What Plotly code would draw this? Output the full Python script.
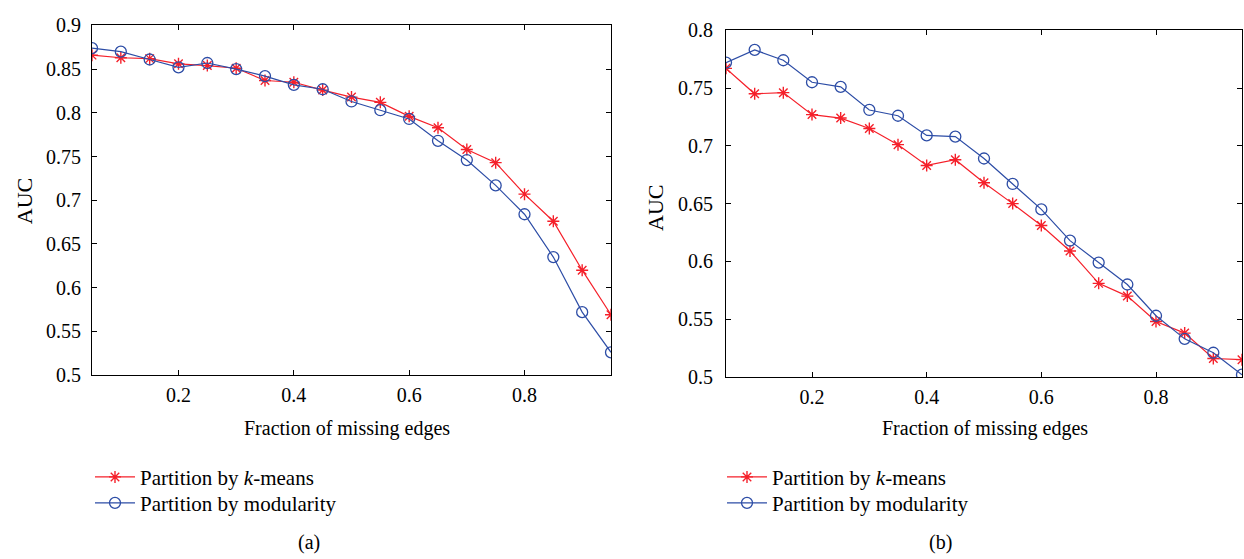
import plotly.graph_objects as go

# Fraction of missing edges (shared x values for both panels)
fraction = [0.05, 0.10, 0.15, 0.20, 0.25, 0.30, 0.35, 0.40, 0.45, 0.50,
            0.55, 0.60, 0.65, 0.70, 0.75, 0.80, 0.85, 0.90, 0.95]

# Panel (a)
auc_a_kmeans = [0.866, 0.863, 0.862, 0.856, 0.854, 0.851, 0.837, 0.835, 0.826, 0.818,
                0.812, 0.796, 0.783, 0.758, 0.743, 0.707, 0.676, 0.620, 0.569]
auc_a_modularity = [0.874, 0.870, 0.861, 0.852, 0.857, 0.850, 0.842, 0.832, 0.827, 0.813,
                    0.803, 0.793, 0.768, 0.746, 0.717, 0.684, 0.635, 0.572, 0.526]

# Panel (b)
auc_b_kmeans = [0.767, 0.745, 0.746, 0.727, 0.724, 0.715, 0.701, 0.683, 0.688, 0.668,
                0.650, 0.631, 0.609, 0.581, 0.570, 0.548, 0.538, 0.516, 0.515]
auc_b_modularity = [0.772, 0.783, 0.774, 0.755, 0.751, 0.731, 0.726, 0.709, 0.708, 0.689,
                    0.667, 0.645, 0.618, 0.599, 0.580, 0.553, 0.533, 0.521, 0.502]

x_ticks = [0.2, 0.4, 0.6, 0.8]
x_tick_text = ["0.2", "0.4", "0.6", "0.8"]
y_ticks_a = [0.5, 0.55, 0.6, 0.65, 0.7, 0.75, 0.8, 0.85, 0.9]
y_tick_text_a = ["0.5", "0.55", "0.6", "0.65", "0.7", "0.75", "0.8", "0.85", "0.9"]
y_ticks_b = [0.5, 0.55, 0.6, 0.65, 0.7, 0.75, 0.8]
y_tick_text_b = ["0.5", "0.55", "0.6", "0.65", "0.7", "0.75", "0.8"]

series_names = ["Partition by <i>k</i>-means", "Partition by modularity"]
panel_labels = ["(a)", "(b)"]

RED = "#f5202a"
BLUE = "#2d4da6"
FONT = "Liberation Serif"

W, H = 1244, 559

fig = go.Figure()


def add_panel(xa, ya, legend_ids, kmeans, modularity):
    fig.add_trace(go.Scatter(
        x=fraction, y=kmeans, mode="lines+markers", name=series_names[0],
        xaxis=xa, yaxis=ya, legend=legend_ids[0],
        line=dict(color=RED, width=1.2),
        marker=dict(symbol="asterisk-open", size=10,
                    line=dict(color=RED, width=1.4), color=RED),
    ))
    fig.add_trace(go.Scatter(
        x=fraction, y=modularity, mode="lines+markers", name=series_names[1],
        xaxis=xa, yaxis=ya, legend=legend_ids[1],
        line=dict(color=BLUE, width=1.2),
        marker=dict(symbol="circle-open", size=11,
                    line=dict(color=BLUE, width=1.3), color=BLUE),
    ))


add_panel("x", "y", ("legend", "legend2"), auc_a_kmeans, auc_a_modularity)
add_panel("x2", "y2", ("legend3", "legend4"), auc_b_kmeans, auc_b_modularity)

# Panel boxes in pixels (left, right, top, bottom)
box_a = (92, 611, 15, 379)
box_b = (726, 1242, 20, 381)


def px_dom_x(b):
    return [b[0] / W, b[1] / W]


def px_dom_y(b):
    return [1 - b[3] / H, 1 - b[2] / H]


axis_common = dict(
    showline=True, linecolor="black", linewidth=1, mirror="ticks",
    ticks="inside", ticklen=5, tickcolor="black", tickwidth=1,
    showgrid=False, zeroline=False,
    tickfont=dict(family=FONT, size=20, color="black"),
)


def legend_at(x_px, top_px):
    return dict(
        x=x_px / W, y=1 - top_px / H, xanchor="left", yanchor="top",
        bgcolor="rgba(0,0,0,0)",
        font=dict(family=FONT, size=21, color="black"),
        tracegroupgap=0, itemwidth=40,
    )


fig.update_layout(
    width=W, height=H,
    margin=dict(l=0, r=0, t=0, b=0),
    paper_bgcolor="white", plot_bgcolor="white",
    font=dict(family=FONT, size=20, color="black"),
    xaxis=dict(domain=px_dom_x(box_a), range=[0.05, 0.95], anchor="y",
               tickvals=x_ticks, ticktext=x_tick_text, ticklabelstandoff=2,
               **axis_common),
    yaxis=dict(domain=px_dom_y(box_a), range=[0.5, 0.9], anchor="x",
               tickvals=y_ticks_a, ticktext=y_tick_text_a, ticklabelstandoff=6,
               **axis_common),
    xaxis2=dict(domain=px_dom_x(box_b), range=[0.05, 0.95], anchor="y2",
                tickvals=x_ticks, ticktext=x_tick_text, ticklabelstandoff=2,
                **axis_common),
    yaxis2=dict(domain=px_dom_y(box_b), range=[0.5, 0.8], anchor="x2",
                tickvals=y_ticks_b, ticktext=y_tick_text_b, ticklabelstandoff=8,
                **axis_common),
    legend=legend_at(90, 464),
    legend2=legend_at(90, 491),
    legend3=legend_at(722, 464),
    legend4=legend_at(722, 491),
    showlegend=True,
)


def text_at(x_px, y_px, text, angle=0, size=20):
    fig.add_annotation(
        x=x_px / W, y=1 - y_px / H, xref="paper", yref="paper",
        text=text, showarrow=False, textangle=angle,
        xanchor="center", yanchor="middle",
        font=dict(family=FONT, size=size, color="black"),
    )


# Axis titles and panel labels
text_at(24, 198, "AUC", angle=-90, size=22)
text_at(656, 205, "AUC", angle=-90, size=22)
text_at(347, 435, "Fraction of missing edges", size=20)
text_at(985, 435, "Fraction of missing edges", size=20)
text_at(309, 553, panel_labels[0])
text_at(940, 553, panel_labels[1])

fig.write_html("out.html")
